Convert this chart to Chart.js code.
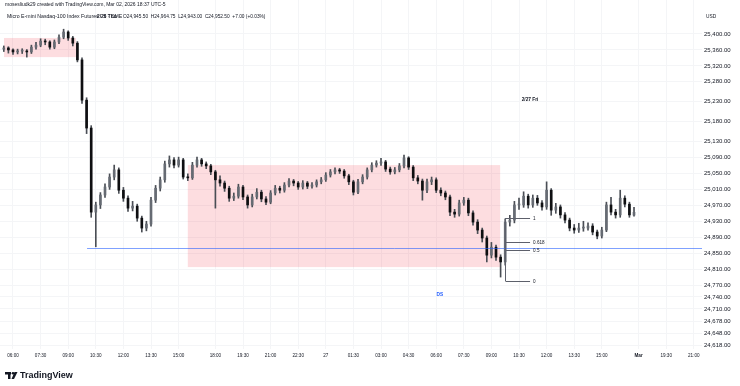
<!DOCTYPE html>
<html lang="en">
<head>
<meta charset="UTF-8">
<title>MNQ 5m chart</title>
<script src="https://cdn.jsdelivr.net/npm/chart.js@4.4.1/dist/chart.umd.min.js"></script>
<style>
  html, body { margin: 0; padding: 0; background: #fff; }
  #wrap { width: 740px; height: 386px; }
</style>
</head>
<body>
<div id="wrap"><canvas id="chart" width="740" height="386"></canvas></div>
<script>
// candles, one every 15 min from Feb 26 05:30 to Feb 27 17:00 (session break collapsed)
const opens = [25362, 25365, 25360, 25355, 25357, 25357, 25355, 25367, 25372, 25382,
  25380, 25367, 25380, 25392, 25405, 25390, 25377, 25335, 25234, 25164,
  24953, 24971, 24996, 25016, 25041, 25059, 25008, 24988, 24963, 24968,
  24938, 24913, 24923, 24983, 25013, 25034, 25074, 25084, 25071, 25084,
  25041, 25039, 25071, 25084, 25074, 25069, 25054, 25034, 25026, 25013,
  24988, 24993, 25016, 24991, 24971, 24991, 25003, 24986, 24978, 25001,
  25013, 25008, 25021, 25031, 25026, 25016, 25026, 25018, 25021, 25029,
  25034, 25046, 25054, 25059, 25056, 25044, 25029, 25003, 25029, 25041,
  25059, 25071, 25076, 25079, 25061, 25054, 25059, 25069, 25089, 25066,
  25039, 25031, 25008, 25029, 25034, 25008, 25001, 24991, 24953, 24948,
  24976, 24983, 24951, 24928, 24908, 24888, 24845, 24865, 24840, 24828,
  24928, 24933, 24971, 24971, 24993, 24971, 24988, 24976, 24966, 25008,
  24958, 24966, 24946, 24933, 24913, 24908, 24913, 24913, 24918, 24903,
  24893, 24908, 24971, 24953, 24946, 24988, 24973, 24945.5];
const highs = [25370, 25368, 25363, 25362, 25363, 25361, 25372, 25379, 25388, 25387,
  25383, 25385, 25398, 25412, 25408, 25394, 25381, 25340, 25240, 25170,
  24978, 25002, 25024, 25049, 25071, 25064, 25015, 24994, 24980, 24973,
  24943, 24930, 24990, 25020, 25041, 25081, 25094, 25090, 25091, 25088,
  25049, 25078, 25091, 25088, 25079, 25073, 25058, 25044, 25031, 25018,
  25001, 25023, 25020, 24996, 24998, 25012, 25008, 24992, 25007, 25020,
  25018, 25027, 25037, 25035, 25030, 25032, 25030, 25027, 25034, 25040,
  25052, 25060, 25064, 25063, 25060, 25048, 25033, 25035, 25047, 25064,
  25077, 25082, 25088, 25083, 25066, 25065, 25075, 25096, 25092, 25070,
  25045, 25036, 25036, 25041, 25039, 25014, 25006, 24996, 24960, 24983,
  24990, 24988, 24956, 24934, 24913, 24893, 24877, 24870, 24846, 24936,
  24945, 24980, 24988, 25004, 24998, 24996, 24995, 24982, 25029, 25012,
  24975, 24971, 24952, 24938, 24922, 24925, 24930, 24926, 24924, 24908,
  24915, 24978, 24990, 24960, 25008, 24994, 24978, 24964.75];
const lows = [25356, 25352, 25349, 25350, 25351, 25342, 25351, 25362, 25368, 25373,
  25362, 25363, 25376, 25388, 25384, 25370, 25330, 25226, 25150, 24940,
  24866, 24962, 24990, 25010, 25034, 25000, 24980, 24955, 24956, 24930,
  24903, 24906, 24918, 24977, 25006, 25028, 25066, 25064, 25066, 25036,
  25032, 25035, 25066, 25068, 25062, 25047, 24963, 25018, 25005, 24980,
  24982, 24988, 24984, 24963, 24966, 24986, 24979, 24972, 24974, 24996,
  25001, 25003, 25016, 25019, 25010, 25011, 25012, 25013, 25016, 25024,
  25030, 25041, 25049, 25050, 25038, 25022, 24996, 24999, 25024, 25036,
  25054, 25066, 25070, 25055, 25048, 25049, 25054, 25064, 25060, 25032,
  25024, 24983, 25002, 25022, 25002, 24994, 24984, 24944, 24940, 24943,
  24970, 24944, 24920, 24899, 24878, 24828, 24838, 24832, 24790, 24820,
  24918, 24926, 24960, 24965, 24963, 24965, 24970, 24958, 24960, 24945,
  24950, 24938, 24926, 24906, 24900, 24902, 24905, 24908, 24896, 24886,
  24888, 24904, 24946, 24938, 24940, 24966, 24940, 24943];
const closes = [25365, 25360, 25355, 25357, 25357, 25355, 25367, 25372, 25382, 25380,
  25367, 25380, 25392, 25405, 25390, 25377, 25335, 25234, 25164, 24953,
  24971, 24996, 25016, 25041, 25059, 25008, 24988, 24963, 24968, 24938,
  24913, 24923, 24983, 25013, 25034, 25074, 25084, 25071, 25084, 25041,
  25039, 25071, 25084, 25074, 25069, 25054, 25034, 25026, 25013, 24988,
  24993, 25016, 24991, 24971, 24991, 25003, 24986, 24978, 25001, 25013,
  25008, 25021, 25031, 25026, 25016, 25026, 25018, 25021, 25029, 25034,
  25046, 25054, 25059, 25056, 25044, 25029, 25003, 25029, 25041, 25059,
  25071, 25076, 25079, 25061, 25054, 25059, 25069, 25089, 25066, 25039,
  25031, 25008, 25029, 25034, 25008, 25001, 24991, 24953, 24948, 24976,
  24983, 24951, 24928, 24908, 24888, 24845, 24865, 24840, 24828, 24928,
  24933, 24971, 24971, 24993, 24971, 24988, 24976, 24966, 25008, 24958,
  24966, 24946, 24933, 24913, 24908, 24913, 24913, 24918, 24903, 24893,
  24908, 24971, 24953, 24946, 24988, 24973, 24946, 24952.5];

// time axis (bar index -> label)
const timeTickIdx = [2, 8, 14, 20, 26, 32, 38, 46, 52, 58, 64, 70, 76, 82, 88, 94, 100, 106, 112, 118, 124, 130, 138, 144, 150];
const timeTickLabels = ['06:00', '07:30', '09:00', '10:30', '12:00', '13:30', '15:00', '18:00', '19:30', '21:00', '22:30', '27',
  '01:30', '03:00', '04:30', '06:00', '07:30', '09:00', '10:30', '12:00', '13:30', '15:00', 'Mar', '19:30', '21:00'];
// price axis labels
const priceTicks = [25400, 25360, 25320, 25280, 25230, 25180, 25130, 25090, 25050, 25010, 24970, 24930,
  24890, 24850, 24810, 24770, 24740, 24710, 24678, 24648, 24618];

// drawings
const zoneStart = [0.04, 40];
const zoneEnd = [15.7, 107.9];
const zoneTop = [25390, 25071];
const zoneBottom = [25342, 24815];
const hLineStart = 18.1;
const hLineValue = 24863;
const fibStart = 109;
const fibEnd = 114.4;
const fibValues = [24938, 24878, 24859, 24780];
const fibLabels = ['1', '0.618', '0.5', '0'];

const FONT = '"Liberation Sans", Arial, sans-serif';
const fmt = v => v.toLocaleString('en-US', { minimumFractionDigits: 2, maximumFractionDigits: 2 });

const overlay = {
  id: 'overlay',
  beforeDatasetsDraw(chart) {
    const { ctx, scales: { x, y } } = chart;
    ctx.save();
    ctx.fillStyle = 'rgba(242, 54, 69, 0.17)';
    zoneStart.forEach((s, k) => {
      const x0 = x.getPixelForValue(s), x1 = x.getPixelForValue(zoneEnd[k]);
      const y0 = y.getPixelForValue(zoneTop[k]), y1 = y.getPixelForValue(zoneBottom[k]);
      ctx.fillRect(x0, y0, x1 - x0, y1 - y0);
    });
    ctx.restore();
  },
  afterDatasetsDraw(chart) {
    const { ctx, chartArea, scales: { x, y } } = chart;
    ctx.save();
    // horizontal blue line
    const hy = Math.round(y.getPixelForValue(hLineValue)) + 0.5;
    ctx.strokeStyle = 'rgba(41, 98, 255, 0.6)';
    ctx.lineWidth = 1;
    ctx.beginPath();
    ctx.moveTo(x.getPixelForValue(hLineStart), hy);
    ctx.lineTo(chartArea.right, hy);
    ctx.stroke();

    // fib retracement
    const fx0 = Math.round(x.getPixelForValue(fibStart)) + 0.5;
    const fx1 = x.getPixelForValue(fibEnd);
    ctx.strokeStyle = '#5d606b';
    ctx.beginPath();
    ctx.moveTo(fx0, y.getPixelForValue(fibValues[0]));
    ctx.lineTo(fx0, y.getPixelForValue(fibValues[3]));
    ctx.stroke();
    ctx.font = '4.6px ' + FONT;
    ctx.fillStyle = '#131722';
    ctx.textBaseline = 'middle';
    fibValues.forEach((v, k) => {
      const py = Math.round(y.getPixelForValue(v)) + 0.5;
      ctx.beginPath();
      ctx.moveTo(fx0, py);
      ctx.lineTo(fx1, py);
      ctx.stroke();
      ctx.fillText(fibLabels[k], fx1 + 3, py);
    });

    // text labels
    ctx.textAlign = 'center';
    ctx.font = 'bold 4.8px ' + FONT;
    ctx.fillStyle = '#2962ff';
    ctx.fillText('DS', x.getPixelForValue(94.8), y.getPixelForValue(24745));
    ctx.fillStyle = '#131722';
    ctx.fillText('2/27 Fri', x.getPixelForValue(114.4), y.getPixelForValue(25234));

    // header
    ctx.textAlign = 'left';
    ctx.font = '5px ' + FONT;
    ctx.fillText('mosesliudk29 created with TradingView.com, Mar 02, 2026 18:37 UTC-5', 5, 5);
    ctx.font = '5.2px ' + FONT;
    ctx.fillText('Micro E-mini Nasdaq-100 Index Futures \u00b7 5 \u00b7 CME', 7, 17);
    ctx.font = '4.8px ' + FONT;
    ctx.fillText('O24,945.50  H24,964.75  L24,943.00  C24,952.50  +7.00 (+0.03%)', 123, 17);
    ctx.font = 'bold 4.8px ' + FONT;
    ctx.textAlign = 'center';
    ctx.fillText('2/26 Thu', x.getPixelForValue(22.4), y.getPixelForValue(25443));
    ctx.font = '4.8px ' + FONT;
    ctx.textAlign = 'left';
    ctx.fillText('USD', 706, 17);

    // logo
    ctx.fillStyle = '#131722';
    ctx.fillRect(5, 372, 6, 2.5);
    ctx.fillRect(8, 372, 2.5, 7);
    ctx.beginPath();
    ctx.arc(13, 373.3, 1.3, 0, Math.PI * 2);
    ctx.fill();
    ctx.beginPath();
    ctx.moveTo(14.5, 372);
    ctx.lineTo(17.5, 372);
    ctx.lineTo(14, 379);
    ctx.lineTo(11.5, 379);
    ctx.closePath();
    ctx.fill();
    ctx.font = 'bold 9px ' + FONT;
    ctx.textBaseline = 'middle';
    ctx.fillText('TradingView', 20, 376);
    ctx.restore();
  }
};

const idx = closes.map((c, i) => i);
const bodyColors = closes.map((c, i) => c >= opens[i] ? '#666b73' : '#0e0f11');

new Chart(document.getElementById('chart').getContext('2d'), {
  type: 'bar',
  data: {
    datasets: [
      {
        label: 'wicks',
        data: idx.map(i => ({ x: i, y: [lows[i], highs[i]] })),
        backgroundColor: '#4a4e55',
        barThickness: 1,
        grouped: false,
        order: 2
      },
      {
        label: 'bodies',
        data: idx.map(i => ({ x: i, y: [opens[i], closes[i]] })),
        backgroundColor: bodyColors,
        barThickness: 2,
        minBarLength: 1,
        grouped: false,
        order: 1
      }
    ]
  },
  options: {
    responsive: false,
    animation: false,
    layout: { padding: 0 },
    plugins: { legend: { display: false }, tooltip: { enabled: false } },
    scales: {
      x: {
        type: 'linear',
        min: -0.826,
        max: 151.78,
        offset: false,
        grid: { offset: false, color: '#f4f5f7', drawTicks: false },
        border: { display: false },
        afterBuildTicks: ax => { ax.ticks = timeTickIdx.map(v => ({ value: v })); },
        afterFit: ax => { ax.height = 37; ax.paddingLeft = 0; ax.paddingRight = 0; },
        ticks: {
          autoSkip: false,
          maxRotation: 0,
          padding: 4,
          color: '#131722',
          font: c => ({ family: FONT, size: 4.6, weight: (c.tick && c.tick.value === 138) ? 'bold' : 'normal' }),
          callback: v => timeTickLabels[timeTickIdx.indexOf(v)]
        }
      },
      y: {
        position: 'right',
        min: 24609.5,
        max: 25485.3,
        grid: { color: '#f4f5f7', drawTicks: false },
        border: { display: false },
        afterBuildTicks: ax => { ax.ticks = priceTicks.map(v => ({ value: v })); },
        afterFit: ax => { ax.width = 38; ax.paddingTop = 0; ax.paddingBottom = 0; },
        ticks: {
          padding: 2,
          color: '#131722',
          font: { family: FONT, size: 6 },
          callback: v => fmt(v)
        }
      }
    }
  },
  plugins: [overlay]
});
</script>
</body>
</html>
